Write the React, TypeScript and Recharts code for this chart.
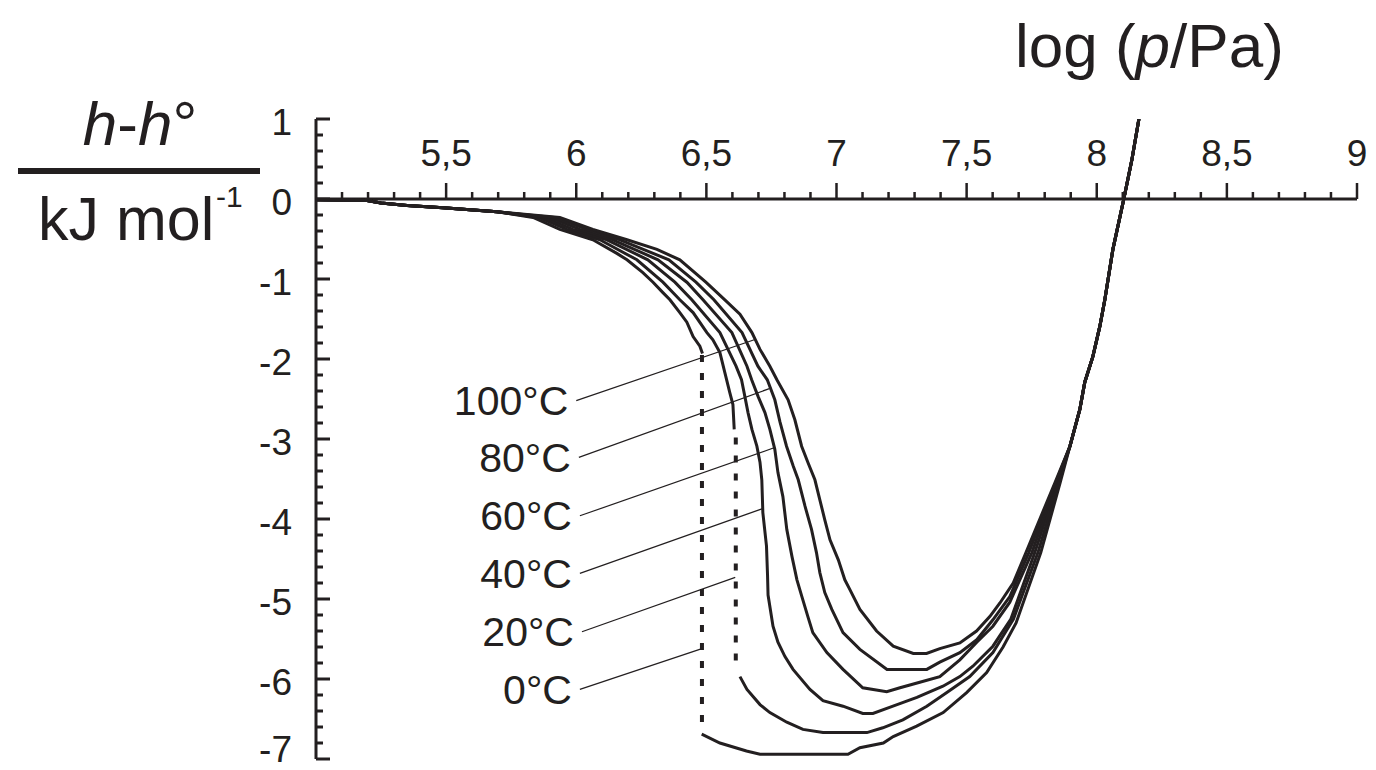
import React from "react";
import { ComposedChart, Line, XAxis, YAxis, ReferenceLine, ReferenceDot } from "recharts";

const INK = "#231f20";
const FONT = "'Liberation Sans', Arial, Helvetica, sans-serif";

type Pt = [number, number]; // [log(p/Pa), h-h° in kJ/mol]

// shared low-pressure start and high-pressure end of all isotherms
const common: Pt[] = [[5.0, -0.01], [5.196, -0.02], [5.25, -0.05], [5.35, -0.08], [5.488, -0.11], [5.695, -0.16]];
const tail: Pt[] = [[7.897, -3.09], [7.935, -2.63], [7.954, -2.29], [7.985, -1.97], [8.012, -1.59], [8.031, -1.26], [8.062, -0.63], [8.104, 0], [8.135, 0.49], [8.162, 1.0]];

// 0 °C: gas branch, jump, liquid branch
const gas0: Pt[] = [...common, [5.834, -0.23], [5.937, -0.38], [6.064, -0.51], [6.156, -0.68], [6.195, -0.76], [6.256, -0.92], [6.295, -1.04], [6.333, -1.17], [6.36, -1.26], [6.398, -1.42], [6.425, -1.54], [6.449, -1.72], [6.475, -1.84], [6.485, -1.93]];
const jump0: Pt[] = [[6.483, -1.95], [6.483, -6.6]];
const liquid0: Pt[] = [[6.482, -6.69], [6.552, -6.8], [6.654, -6.9], [6.706, -6.94], [7.044, -6.94], [7.09, -6.86], [7.18, -6.8], [7.218, -6.72], [7.308, -6.59], [7.41, -6.42], [7.5, -6.17], [7.577, -5.92], [7.64, -5.6], [7.69, -5.3], [7.785, -4.42], [7.86, -3.54], ...tail];

// 20 °C
const gas20: Pt[] = [...common, [5.855, -0.23], [5.964, -0.38], [6.091, -0.51], [6.233, -0.76], [6.333, -1.04], [6.398, -1.26], [6.449, -1.42], [6.502, -1.67], [6.525, -1.76], [6.552, -1.92], [6.571, -2.17], [6.59, -2.42], [6.602, -2.57], [6.607, -2.88]];
const jump20: Pt[] = [[6.613, -2.98], [6.613, -5.88]];
const liquid20: Pt[] = [[6.629, -5.97], [6.656, -6.13], [6.706, -6.32], [6.744, -6.42], [6.809, -6.54], [6.871, -6.63], [6.948, -6.67], [7.117, -6.67], [7.178, -6.61], [7.255, -6.51], [7.347, -6.34], [7.424, -6.17], [7.512, -5.97], [7.601, -5.67], [7.68, -5.25], [7.774, -4.42], [7.855, -3.54], ...tail];

// supercritical isotherms
const h40: Pt[] = [...common, [5.875, -0.23], [5.987, -0.38], [6.118, -0.51], [6.275, -0.76], [6.379, -1.04], [6.444, -1.26], [6.552, -1.67], [6.614, -2.09], [6.635, -2.26], [6.648, -2.47], [6.66, -2.67], [6.675, -2.88], [6.694, -3.09], [6.706, -3.29], [6.713, -3.51], [6.717, -3.92], [6.731, -4.34], [6.735, -4.7], [6.737, -4.95], [6.756, -5.34], [6.775, -5.54], [6.802, -5.72], [6.833, -5.88], [6.898, -6.13], [6.948, -6.27], [7.025, -6.34], [7.101, -6.43], [7.14, -6.43], [7.217, -6.34], [7.309, -6.23], [7.409, -6.09], [7.474, -5.97], [7.524, -5.84], [7.601, -5.59], [7.67, -5.25], [7.762, -4.42], [7.85, -3.54], ...tail];
const h60: Pt[] = [...common, [5.895, -0.23], [6.014, -0.38], [6.141, -0.51], [6.314, -0.76], [6.425, -1.04], [6.487, -1.26], [6.598, -1.67], [6.656, -2.09], [6.674, -2.26], [6.699, -2.47], [6.725, -2.67], [6.744, -2.88], [6.763, -3.13], [6.775, -3.42], [6.794, -3.72], [6.809, -4.13], [6.829, -4.47], [6.848, -4.76], [6.867, -4.97], [6.89, -5.22], [6.909, -5.42], [6.963, -5.67], [7.025, -5.88], [7.101, -6.11], [7.193, -6.16], [7.244, -6.11], [7.32, -6.04], [7.397, -5.97], [7.474, -5.76], [7.539, -5.54], [7.601, -5.34], [7.666, -5.04], [7.751, -4.42], [7.845, -3.54], ...tail];
const h80: Pt[] = [...common, [5.915, -0.23], [6.041, -0.38], [6.168, -0.51], [6.356, -0.76], [6.46, -1.04], [6.529, -1.26], [6.637, -1.67], [6.698, -2.09], [6.734, -2.26], [6.763, -2.51], [6.783, -2.79], [6.808, -3.09], [6.834, -3.34], [6.853, -3.51], [6.879, -3.84], [6.904, -4.13], [6.923, -4.42], [6.936, -4.67], [6.955, -4.92], [6.982, -5.13], [7.025, -5.42], [7.09, -5.63], [7.194, -5.88], [7.347, -5.88], [7.397, -5.79], [7.474, -5.67], [7.539, -5.51], [7.601, -5.26], [7.666, -4.97], [7.739, -4.42], [7.843, -3.54], ...tail];
const h100: Pt[] = [...common, [5.937, -0.23], [6.064, -0.38], [6.195, -0.51], [6.31, -0.63], [6.398, -0.76], [6.498, -1.04], [6.571, -1.26], [6.629, -1.44], [6.675, -1.67], [6.706, -1.88], [6.744, -2.09], [6.771, -2.26], [6.814, -2.51], [6.84, -2.76], [6.866, -3.09], [6.891, -3.3], [6.917, -3.51], [6.936, -3.76], [6.955, -4.01], [6.975, -4.26], [7.007, -4.51], [7.032, -4.76], [7.051, -4.88], [7.09, -5.13], [7.154, -5.4], [7.218, -5.59], [7.295, -5.68], [7.346, -5.68], [7.397, -5.62], [7.474, -5.55], [7.538, -5.4], [7.589, -5.22], [7.628, -5.05], [7.679, -4.8], [7.728, -4.42], [7.84, -3.54], ...tail];

const solidCurves = [gas0, liquid0, gas20, liquid20, h40, h60, h80, h100];
const jumpCurves = [jump0, jump20];

// isotherm labels and their leader lines
const tempLabels = ["100°C", "80°C", "60°C", "40°C", "20°C", "0°C"];
const leaderFrom: Pt[] = [[6.0, -2.52], [6.01, -3.23], [6.014, -3.96], [6.014, -4.68], [6.022, -5.41], [6.014, -6.13]];
const leaderTo: Pt[] = [[6.684, -1.76], [6.742, -2.37], [6.76, -3.11], [6.716, -3.87], [6.611, -4.73], [6.483, -5.62]];

// axis ticks
const xMajor = [5.5, 6, 6.5, 7, 7.5, 8, 8.5, 9];
const xMajorLabels = ["5,5", "6", "6,5", "7", "7,5", "8", "8,5", "9"];
const yMajor = [-7, -6, -5, -4, -3, -2, -1, 0, 1];
const xTicks = Array.from({ length: 40 }, (_, i) => Number((5.1 + i * 0.1).toFixed(1)));
const yTicks = Array.from({ length: 41 }, (_, i) => Number((-7 + i * 0.2).toFixed(1)));

const toPts = (a: Pt[]) => a.map(([x, y]) => ({ x, y }));

function YTick(props: any) {
  const { x, y, payload } = props;
  const v = payload.value;
  const major = yMajor.some((m) => Math.abs(m - v) < 1e-6);
  // bottom label pulled up a little so it stays inside the picture
  const nudge = v <= -6.99 ? -10 : 3;
  return (
    <g>
      <line x1={x} x2={x + (major ? 14 : 7)} y1={y} y2={y} stroke={INK} strokeWidth={3} />
      {major && (
        <text x={x - 24} y={y + nudge} dy="0.36em" textAnchor="end" fontSize={37} fill={INK}>
          {String(Math.round(v))}
        </text>
      )}
    </g>
  );
}

function xTickShape(v: number) {
  return (p: any) => {
    const idx = xMajor.findIndex((m) => Math.abs(m - v) < 1e-6);
    const major = idx >= 0;
    return (
      <g>
        <line x1={p.cx} x2={p.cx} y1={p.cy} y2={p.cy - (major ? 16 : 7)} stroke={INK} strokeWidth={2.5} />
        {major && (
          <text x={p.cx} y={p.cy - 46} dy="0.36em" textAnchor="middle" fontSize={37} fill={INK}>
            {xMajorLabels[idx]}
          </text>
        )}
      </g>
    );
  };
}

export default function App() {
  return (
    <div style={{ position: "absolute", left: 0, top: 0, width: 1376, height: 770, background: "#fff", fontFamily: FONT }}>
      <ComposedChart width={1376} height={770} margin={{ top: 119, right: 19, bottom: 11, left: 216 }}>
        <XAxis dataKey="x" type="number" domain={[5, 9]} allowDataOverflow hide />
        <YAxis
          type="number"
          domain={[-7, 1]}
          allowDataOverflow
          ticks={yTicks}
          interval={0}
          width={100}
          tickSize={0}
          tickMargin={0}
          tickLine={false}
          axisLine={{ stroke: INK, strokeWidth: 3 }}
          tick={<YTick />}
        />
        <ReferenceLine y={0} stroke={INK} strokeWidth={3} />
        {xTicks.map((v) => (
          <ReferenceDot key={v} x={v} y={0} r={0} ifOverflow="visible" shape={xTickShape(v)} />
        ))}
        {tempLabels.map((t, i) => (
          <ReferenceLine
            key={t}
            segment={[
              { x: leaderFrom[i][0], y: leaderFrom[i][1] },
              { x: leaderTo[i][0], y: leaderTo[i][1] },
            ]}
            stroke={INK}
            strokeWidth={1.2}
            ifOverflow="visible"
          />
        ))}
        {tempLabels.map((t, i) => (
          <ReferenceDot
            key={"l" + t}
            x={leaderFrom[i][0]}
            y={leaderFrom[i][1]}
            r={0}
            fill="none"
            stroke="none"
            ifOverflow="visible"
            label={{ value: t, position: "left", offset: 8, fontSize: 41, fill: INK }}
          />
        ))}
        {solidCurves.map((c, i) => (
          <Line
            key={"s" + i}
            data={toPts(c)}
            dataKey="y"
            type="linear"
            stroke={INK}
            strokeWidth={3}
            dot={false}
            activeDot={false}
            isAnimationActive={false}
          />
        ))}
        {jumpCurves.map((c, i) => (
          <Line
            key={"j" + i}
            data={toPts(c)}
            dataKey="y"
            type="linear"
            stroke={INK}
            strokeWidth={4}
            strokeDasharray="7 11"
            dot={false}
            activeDot={false}
            isAnimationActive={false}
          />
        ))}
      </ComposedChart>
      <svg width={1376} height={770} style={{ position: "absolute", left: 0, top: 0, pointerEvents: "none" }} fontFamily={FONT} fill={INK}>
        <text x={1015} y={67} fontSize={62}>
          log (<tspan fontStyle="italic">p</tspan>/Pa)
        </text>
        <text x={140} y={145} textAnchor="middle" fontSize={62}>
          <tspan fontStyle="italic">h</tspan>-<tspan fontStyle="italic">h</tspan>°
        </text>
        <rect x={18} y={168} width={242} height={6} />
        <text x={38} y={240} fontSize={61}>kJ mol</text>
        <text x={216} y={207} fontSize={30}>-1</text>
      </svg>
    </div>
  );
}
